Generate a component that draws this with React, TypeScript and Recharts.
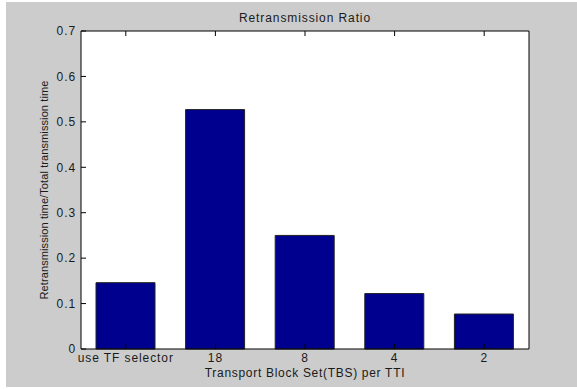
import { BarChart, Bar, XAxis, YAxis, CartesianGrid } from "recharts"

const categories = ["use TF selector", "18", "8", "4", "2"]
const ratios = [0.146, 0.527, 0.25, 0.122, 0.077]
const yTicks = [0, 0.1, 0.2, 0.3, 0.4, 0.5, 0.6, 0.7]

const data = categories.map((name, i) => ({ name, ratio: ratios[i] }))

const font = "'Liberation Sans', Arial, sans-serif"
const textColor = "#1a1a1a"

export default function App() {
  return (
    <div style={{ position: "absolute", left: 0, top: 0, width: 577, height: 389, background: "#fff", fontFamily: font }}>
      <div style={{ position: "absolute", left: 6, top: 2, width: 571, height: 385, background: "#cccccc" }} />
      <BarChart
        width={577}
        height={389}
        data={data}
        margin={{ top: 0, right: 0, bottom: 0, left: 0 }}
        style={{ position: "absolute", left: 0, top: 0 }}
      >
        <CartesianGrid fill="#ffffff" stroke="none" horizontal={false} vertical={false} />
        <XAxis
          dataKey="name"
          height={40}
          axisLine={{ stroke: "#000" }}
          tickLine={{ stroke: "#000" }}
          tickSize={-5}
          tickMargin={9}
          interval={0}
          tick={{ fill: textColor, fontSize: 12, fontFamily: font, letterSpacing: 0.9 }}
        />
        <XAxis
          xAxisId="top"
          orientation="top"
          dataKey="name"
          height={31}
          axisLine={{ stroke: "#000" }}
          tickLine={{ stroke: "#000" }}
          tickSize={-5}
          interval={0}
          tickFormatter={() => ""}
        />
        <YAxis
          width={81}
          domain={[0, 0.7]}
          ticks={yTicks}
          interval={0}
          axisLine={{ stroke: "#000" }}
          tickLine={{ stroke: "#000" }}
          tickSize={-5}
          tickMargin={10}
          tick={{ fill: textColor, fontSize: 12, fontFamily: font, letterSpacing: 0.9 }}
        />
        <YAxis
          yAxisId="right"
          orientation="right"
          width={48}
          domain={[0, 0.7]}
          ticks={yTicks}
          interval={0}
          axisLine={{ stroke: "#000" }}
          tickLine={{ stroke: "#000" }}
          tickSize={-5}
          tickFormatter={() => ""}
        />
        <Bar dataKey="ratio" fill="#00008f" stroke="#222" strokeWidth={1} barSize={59} isAnimationActive={false} />
      </BarChart>
      <div style={{ position: "absolute", left: 81, width: 448, top: 11, textAlign: "center", fontSize: 12, letterSpacing: 0.9, color: textColor, lineHeight: "14px" }}>
        Retransmission Ratio
      </div>
      <div style={{ position: "absolute", left: 81, width: 448, top: 366, textAlign: "center", fontSize: 12, letterSpacing: 0.7, color: textColor, lineHeight: "14px" }}>
        Transport Block Set(TBS) per TTI
      </div>
      <div
        style={{
          position: "absolute",
          left: 44 - 150,
          top: 190 - 7,
          width: 300,
          textAlign: "center",
          fontSize: 11,
          letterSpacing: 0.1,
          color: textColor,
          lineHeight: "14px",
          transform: "rotate(-90deg)",
        }}
      >
        Retransmission time/Total transmission time
      </div>
    </div>
  )
}
